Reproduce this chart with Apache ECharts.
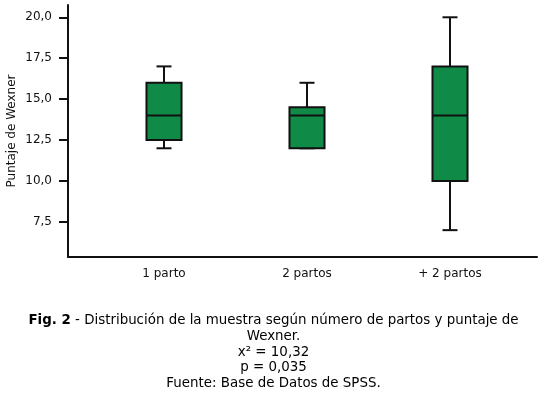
<!DOCTYPE html>
<html><head><meta charset="utf-8">
<script src="https://cdn.jsdelivr.net/npm/echarts@6/dist/echarts.min.js"></script>
<style>html,body{margin:0;padding:0;background:#fff}#c{width:547px;height:395px}</style>
</head><body><div id="c"></div>
<script>
const categories = ['1 parto', '2 partos', '+ 2 partos'];
const whiskerLow = [12, 12, 7];
const q1 = [12.5, 12, 10];
const median = [14, 14, 14];
const q3 = [16, 14.5, 17];
const whiskerHigh = [17, 16, 20];
const yTicks = [7.5, 10, 12.5, 15, 17.5, 20];

const data = categories.map((c, i) => [i, whiskerLow[i], q1[i], median[i], q3[i], whiskerHigh[i]]);
const YMIN = 5.36, YMAX = 20.75;
const FONT = 'DejaVu Sans';
const stroke = '#111';

const chart = echarts.init(document.getElementById('c'));
chart.setOption({
  animation: false,
  backgroundColor: '#fff',
  title: {
    left: 'center', top: 308,
    text: '{b|Fig. 2} - Distribución de la muestra según número de partos y puntaje de\nWexner.\nx² = 10,32\np = 0,035\nFuente: Base de Datos de SPSS.',
    textStyle: {
      fontFamily: FONT, fontSize: 13.4, fontWeight: 'normal', color: '#000', lineHeight: 15.7, align: 'center',
      rich: { b: { fontFamily: FONT, fontSize: 13.4, fontWeight: 'bold', color: '#000', lineHeight: 15.7 } }
    }
  },
  grid: [
    { left: 68, right: 10, top: 5, bottom: 138, outerBoundsMode: 'none', containLabel: false },
    { left: 92.5, right: 25.5, top: 5, bottom: 138, outerBoundsMode: 'none', containLabel: false }
  ],
  xAxis: [
    { gridIndex: 0, type: 'value', min: 0, max: 1, axisLine: { lineStyle: { color: stroke, width: 2 } },
      axisTick: { show: false }, axisLabel: { show: false }, splitLine: { show: false } },
    { gridIndex: 1, type: 'category', data: categories, boundaryGap: true,
      axisLine: { show: false },
      axisTick: { alignWithLabel: true, length: 4, lineStyle: { color: stroke, width: 2 } },
      axisLabel: { fontFamily: FONT, fontSize: 12, color: '#111', margin: 11 },
      splitLine: { show: false } }
  ],
  yAxis: [
    { gridIndex: 0, type: 'value', min: YMIN, max: YMAX,
      name: 'Puntaje de Wexner', nameLocation: 'middle', nameGap: 50, nameRotate: 90, nameMoveOverlap: false,
      nameTextStyle: { fontFamily: FONT, fontSize: 12, color: '#111' },
      axisLine: { show: true, lineStyle: { color: stroke, width: 2 } },
      axisTick: { show: true, length: 9, customValues: yTicks, lineStyle: { color: stroke, width: 2 } },
      axisLabel: { customValues: yTicks, fontFamily: FONT, fontSize: 12, color: '#111', margin: 16,
        formatter: v => v.toFixed(1).replace('.', ',') },
      splitLine: { show: false } },
    { gridIndex: 1, type: 'value', min: YMIN, max: YMAX, show: false }
  ],
  series: [{
    type: 'custom',
    xAxisIndex: 1, yAxisIndex: 1,
    data: data,
    encode: { x: 0, y: [1, 2, 3, 4, 5] },
    renderItem: function (params, api) {
      const x = api.value(0);
      const band = api.size([1, 0])[0];
      const bw = band * 0.245, cw = 15;
      const pLow = api.coord([x, api.value(1)]);
      const pQ1 = api.coord([x, api.value(2)]);
      const pMed = api.coord([x, api.value(3)]);
      const pQ3 = api.coord([x, api.value(4)]);
      const pHigh = api.coord([x, api.value(5)]);
      const cx = pMed[0];
      const ls = { stroke: stroke, lineWidth: 2 };
      return {
        type: 'group',
        children: [
          { type: 'line', shape: { x1: cx, y1: pHigh[1], x2: cx, y2: pQ3[1] }, style: ls },
          { type: 'line', shape: { x1: cx, y1: pQ1[1], x2: cx, y2: pLow[1] }, style: ls },
          { type: 'line', shape: { x1: cx - cw / 2, y1: pHigh[1], x2: cx + cw / 2, y2: pHigh[1] }, style: ls },
          { type: 'line', shape: { x1: cx - cw / 2, y1: pLow[1], x2: cx + cw / 2, y2: pLow[1] }, style: ls },
          { type: 'rect', shape: { x: cx - bw / 2, y: pQ3[1], width: bw, height: pQ1[1] - pQ3[1] },
            style: { fill: '#0f8a47', stroke: stroke, lineWidth: 2 } },
          { type: 'line', shape: { x1: cx - bw / 2, y1: pMed[1], x2: cx + bw / 2, y2: pMed[1] }, style: ls }
        ]
      };
    }
  }]
});
</script></body></html>
